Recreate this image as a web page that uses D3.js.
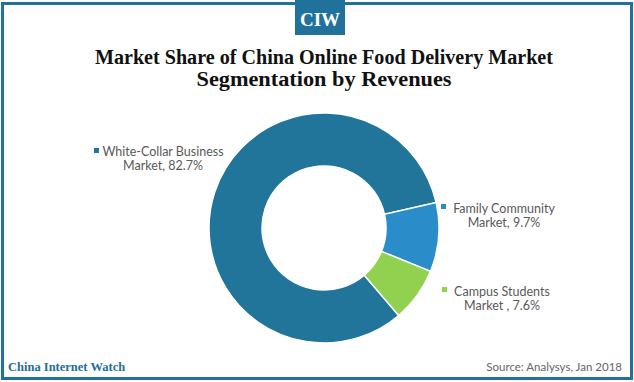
<!DOCTYPE html>
<html>
<head>
<meta charset="utf-8">
<script src="https://cdn.jsdelivr.net/npm/d3@7/dist/d3.min.js"></script>
<style>
  html, body { margin: 0; padding: 0; background: #fff; }
  svg { display: block; }
</style>
</head>
<body>
<svg id="chart" width="634" height="382"></svg>
<script>
const categories = ["White-Collar Business", "Family Community", "Campus Students"];
const labelSecond = ["Market, 82.7%", "Market, 9.7%", "Market , 7.6%"];
const values = [82.7, 9.7, 7.6];
const colors = ["#21759b", "#2a8dca", "#92d050"];
const titleLines = ["Market Share of China Online Food Delivery Market", "Segmentation by Revenues"];
const sourceText = "Source: Analysys, Jan 2018";
const brandText = "China Internet Watch";

const W = 634, H = 382;
const svg = d3.select("#chart");
const frameColor = "#20729a";
const serif = "'Liberation Serif', 'DejaVu Serif', serif";

// frame
svg.append("rect").attr("x", 2.5).attr("y", 3.5).attr("width", W - 5).attr("height", H - 7)
  .attr("fill", "none").attr("stroke", frameColor).attr("stroke-width", 3);

// CIW badge
svg.append("rect").attr("x", 295).attr("y", 0).attr("width", 50).attr("height", 35).attr("fill", frameColor);
svg.append("text").attr("x", 320).attr("y", 26).attr("text-anchor", "middle")
  .attr("font-family", serif).attr("font-weight", "bold").attr("font-size", 19)
  .attr("fill", "#fff").text("CIW");

// title
const titleWidths = [458, 255];
titleLines.forEach((t, i) => {
  svg.append("text").attr("x", 324).attr("y", 64 + i * 22).attr("text-anchor", "middle")
    .attr("font-family", serif).attr("font-weight", "bold").attr("font-size", 20)
    .attr("textLength", titleWidths[i]).attr("lengthAdjust", "spacingAndGlyphs")
    .attr("fill", "#111").text(t);
});

// donut
const cx = 324, cy = 228, rOuter = 115, rInner = 62;
const startDeg = 139.5;
const pie = d3.pie().sort(null).value(d => d)
  .startAngle(startDeg * Math.PI / 180).endAngle((startDeg + 360) * Math.PI / 180);
const arc = d3.arc().innerRadius(rInner).outerRadius(rOuter);
const g = svg.append("g").attr("transform", `translate(${cx},${cy})`);
g.selectAll("path").data(pie(values)).join("path")
  .attr("d", arc).attr("fill", (d, i) => colors[i])
  .attr("stroke", "#fff").attr("stroke-width", 1.5);

// labels
const labelPos = [
  { mx: 94, my: 148, cx: 163, y: 156 },
  { mx: 441, my: 204, cx: 504, y: 213 },
  { mx: 442, my: 287, cx: 502, y: 296 }
];
const labelFont = "Lato, 'DejaVu Sans', sans-serif";
categories.forEach((c, i) => {
  const p = labelPos[i];
  svg.append("rect").attr("x", p.mx).attr("y", p.my).attr("width", 5).attr("height", 5).attr("fill", colors[i]);
  svg.append("text").attr("x", p.cx).attr("y", p.y).attr("text-anchor", "middle")
    .attr("font-family", labelFont).attr("font-size", 12.5).attr("fill", "#595959").text(c);
  svg.append("text").attr("x", p.cx).attr("y", p.y + 14).attr("text-anchor", "middle")
    .attr("font-family", labelFont).attr("font-size", 12.5).attr("fill", "#595959").text(labelSecond[i]);
});

// footer
svg.append("text").attr("x", 8).attr("y", 371)
  .attr("font-family", serif).attr("font-weight", "bold").attr("font-size", 12.5)
  .attr("fill", "#1f6e99").text(brandText);
svg.append("text").attr("x", 622).attr("y", 371).attr("text-anchor", "end")
  .attr("font-family", labelFont).attr("font-size", 11.5).attr("fill", "#666").text(sourceText);
</script>
</body>
</html>
